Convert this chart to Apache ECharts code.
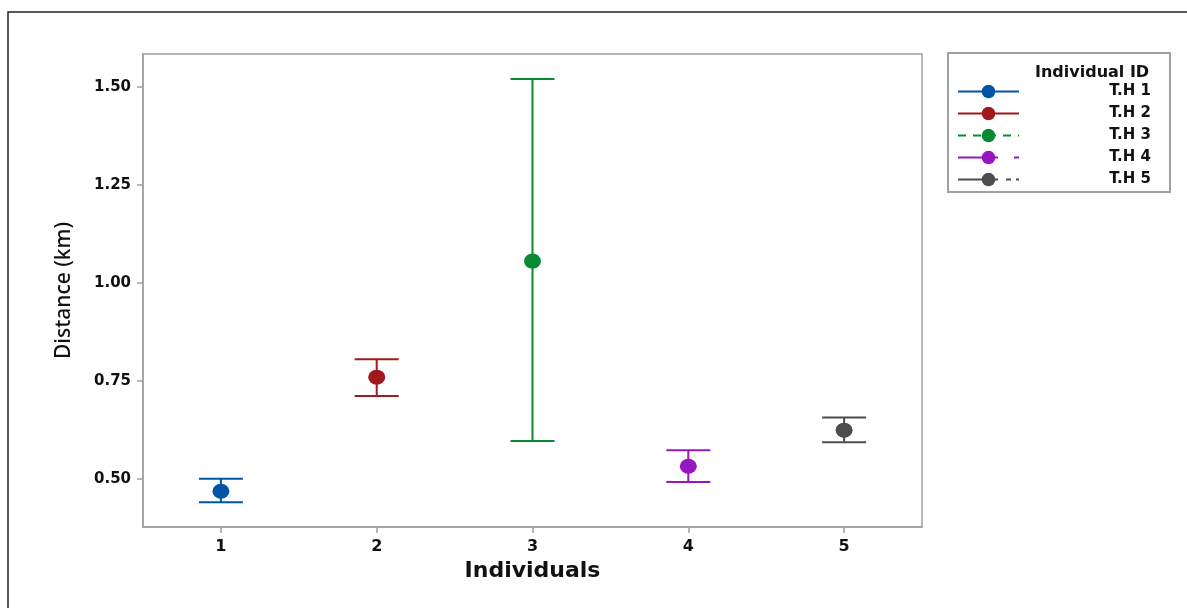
<!DOCTYPE html>
<html><head><meta charset="utf-8">
<script src="https://cdn.jsdelivr.net/npm/echarts@6/dist/echarts.min.js"></script>
<style>html,body{margin:0;padding:0;background:#fff}#c{width:1187px;height:608px}</style>
</head><body><div id="c"></div>
<script>
const categories = ['1','2','3','4','5'];
const names = ['T.H 1','T.H 2','T.H 3','T.H 4','T.H 5'];
const means = [0.469, 0.760, 1.056, 0.533, 0.625];
const lowers = [0.441, 0.712, 0.597, 0.493, 0.594];
const uppers = [0.501, 0.806, 1.520, 0.574, 0.657];
const yTicks = [0.50, 0.75, 1.00, 1.25, 1.50];
const colors = ['#0054A6','#A0191C','#0A8A32','#9617BD','#4D4D4D'];
const legendDash = ['solid','solid',[8,7],[40,16,8,60],[40,8,5,5,5,60]];

const wide = "'DejaVu Sans', sans-serif";
const font = "'Noto Sans', 'Open Sans', sans-serif";
const chart = echarts.init(document.getElementById('c'));

const series = [];
names.forEach((n,i)=>{
  series.push({
    type:'custom', name: n + ' err', silent:true, z:2,
    renderItem:function(params, api){
      const x = api.value(0);
      const lo = api.coord([x, api.value(1)]);
      const hi = api.coord([x, api.value(2)]);
      const hw = 22;
      const st = {stroke: colors[i], lineWidth: 2};
      return {type:'group', children:[
        {type:'line', shape:{x1:lo[0], y1:lo[1], x2:hi[0], y2:hi[1]}, style:st},
        {type:'line', shape:{x1:lo[0]-hw, y1:lo[1], x2:lo[0]+hw, y2:lo[1]}, style:st},
        {type:'line', shape:{x1:hi[0]-hw, y1:hi[1], x2:hi[0]+hw, y2:hi[1]}, style:st}
      ]};
    },
    data:[[i, lowers[i], uppers[i]]]
  });
  series.push({
    type:'line', name:n, z:3,
    symbol:'circle', symbolSize:[17,15],
    itemStyle:{color:colors[i]},
    lineStyle:{color:colors[i], width:2},
    data:[[i, means[i]]]
  });
});

chart.setOption({
  animation:false,
  backgroundColor:'#fff',
  grid:{left:143, right:265, top:54, bottom:81, show:true, borderColor:'#A0A0A0', borderWidth:1.5, backgroundColor:'transparent'},
  title:{text:'Individual ID', left:1030, top:60, textStyle:{fontFamily:wide, fontSize:16, fontWeight:'bold', color:'#111'}},
  legend:{
    left:957, top:84, padding:0, orient:'vertical', itemWidth:61, itemHeight:17, itemGap:7,
    data: names.map((n,i)=>({name:n, itemStyle:{color:colors[i]}, lineStyle:{color:colors[i], type:legendDash[i], width:2}})),
    formatter: n => '{r|'+n+'}',
    textStyle:{fontFamily:wide, fontSize:15, fontWeight:'bold', color:'#111', rich:{r:{width:127, align:'right', lineHeight:15, fontFamily:wide, fontSize:15, fontWeight:'bold', color:'#111'}}},
    selectedMode:false
  },
  xAxis:{
    type:'category', data:categories, boundaryGap:true,
    name:'Individuals', nameLocation:'middle', nameGap:31,
    nameTextStyle:{fontFamily:wide, fontSize:22, fontWeight:'bold', color:'#111'},
    axisLine:{show:true, lineStyle:{color:'#A0A0A0', width:1.5}},
    axisTick:{show:true, alignWithLabel:true, length:6, lineStyle:{color:'#A0A0A0', width:1.5}},
    axisLabel:{fontFamily:wide, fontSize:16, fontWeight:'bold', color:'#111', margin:12},
    splitLine:{show:false}
  },
  yAxis:{
    type:'value', min:0.378, max:1.584,
    name:'Distance (km)', nameLocation:'middle', nameGap:68,
    nameTextStyle:{fontFamily:font, fontSize:21, fontWeight:500, color:'#111'},
    axisLine:{show:true, lineStyle:{color:'#A0A0A0', width:1.5}},
    axisTick:{show:true, length:6, customValues:yTicks, lineStyle:{color:'#A0A0A0', width:1.5}},
    axisLabel:{fontFamily:wide, fontSize:15, fontWeight:'bold', color:'#111', margin:12, customValues:yTicks, formatter:v=>v.toFixed(2)},
    splitLine:{show:false}
  },
  graphic:[
    {type:'rect', shape:{x:8,y:12,width:1200,height:620}, style:{fill:'none', stroke:'#222', lineWidth:1.5}, silent:true},
    {type:'rect', shape:{x:948,y:53,width:222,height:139}, style:{fill:'none', stroke:'#A0A0A0', lineWidth:2}, silent:true}
  ],
  series: series
});
</script></body></html>
